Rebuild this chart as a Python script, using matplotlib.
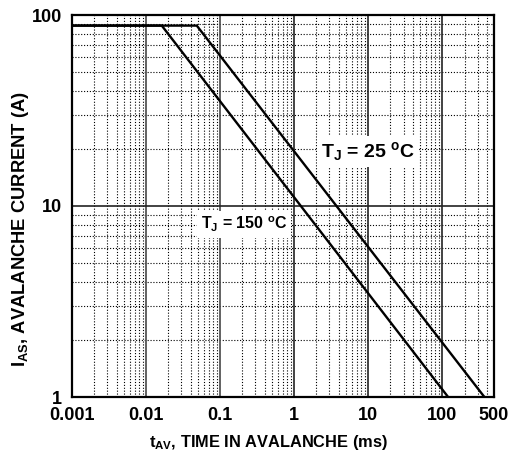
import matplotlib
matplotlib.use("Agg")
import matplotlib.pyplot as plt
from matplotlib.ticker import FixedLocator, NullFormatter, FixedFormatter

plt.rcParams['font.family'] = ['Liberation Sans', 'DejaVu Sans']
plt.rcParams['font.weight'] = 'bold'
plt.rcParams['mathtext.fontset'] = 'custom'
plt.rcParams['mathtext.default'] = 'bf'
plt.rcParams['mathtext.bf'] = 'Liberation Sans:bold'
plt.rcParams['mathtext.rm'] = 'Liberation Sans:bold'
plt.rcParams['mathtext.it'] = 'Liberation Sans:bold'

# Data
t_25 = [0.001, 0.0484, 371]
i_25 = [88, 88, 1]
t_150 = [0.001, 0.0163, 120]
i_150 = [88, 88, 1]

x_ticks = [0.001, 0.01, 0.1, 1, 10, 100, 500]
x_tick_labels = ["0.001", "0.01", "0.1", "1", "10", "100", "500"]
y_ticks = [1, 10, 100]
y_tick_labels = ["1", "10", "100"]

fig = plt.figure(figsize=(5.15, 4.53), dpi=100)
ax = fig.add_axes([72/515, 56/453, 422/515, 382/453])
ax.set_xscale('log')
ax.set_yscale('log')
ax.set_xlim(0.001, 500)
ax.set_ylim(1, 100)

# grid
minor_x = [m * 10**e for e in range(-3, 3) for m in range(2, 10) if m * 10**e < 500]
minor_y = [m * 10**e for e in range(0, 2) for m in range(2, 10)]
for xv in minor_x:
    ax.axvline(xv, color='black', lw=0.8, ls=(0, (1, 1.6)), zorder=1)
for yv in minor_y:
    ax.axhline(yv, color='black', lw=0.8, ls=(0, (1, 1.6)), zorder=1)
for xv in [0.01, 0.1]:
    ax.axvline(xv, color='#555555', lw=1.3, zorder=1)
for xv in [1, 10, 100]:
    ax.axvline(xv, color='#222222', lw=1.2, zorder=1)
ax.axhline(10, color='#222222', lw=1.2, zorder=1)

ax.plot(t_25, i_25, color='black', lw=1.7, zorder=3)
ax.plot(t_150, i_150, color='black', lw=1.7, zorder=3)

ax.xaxis.set_major_locator(FixedLocator(x_ticks))
ax.xaxis.set_major_formatter(FixedFormatter(x_tick_labels))
ax.xaxis.set_minor_formatter(NullFormatter())
ax.yaxis.set_major_locator(FixedLocator(y_ticks))
ax.yaxis.set_major_formatter(FixedFormatter(y_tick_labels))
ax.yaxis.set_minor_formatter(NullFormatter())
ax.tick_params(which='both', length=0, labelsize=13, pad=7)
for lab in ax.get_xticklabels() + ax.get_yticklabels():
    lab.set_fontweight('bold')

for s in ax.spines.values():
    s.set_linewidth(1.6)
    s.set_zorder(4)

ax.set_xlabel(r"t$_{\mathrm{AV}}$, TIME IN AVALANCHE (ms)", fontsize=11.8, fontweight='bold')
ax.xaxis.label.set_va('center')
ax.xaxis.set_label_coords(0.4656, -0.118)
ax.set_ylabel(r"I$_{\mathrm{AS}}$, AVALANCHE CURRENT (A)", fontsize=13.2, fontweight='bold')
ax.yaxis.label.set_va('center')
ax.yaxis.set_label_coords(-0.122, 0.44)

ax.text(10, 19.2, r"T$_{\mathrm{J}}$ = 25 $^{\mathrm{o}}$C", fontsize=14, fontweight='bold',
        ha='center', va='center', zorder=5,
        bbox=dict(facecolor='white', edgecolor='none', pad=3))
ax.text(0.21, 8.0, r"T$_{\mathrm{J}}$ = 150 $^{\mathrm{o}}$C", fontsize=11.5, fontweight='bold',
        ha='center', va='center', zorder=5,
        bbox=dict(facecolor='white', edgecolor='none', pad=3))

fig.savefig("out.png", dpi=100)
